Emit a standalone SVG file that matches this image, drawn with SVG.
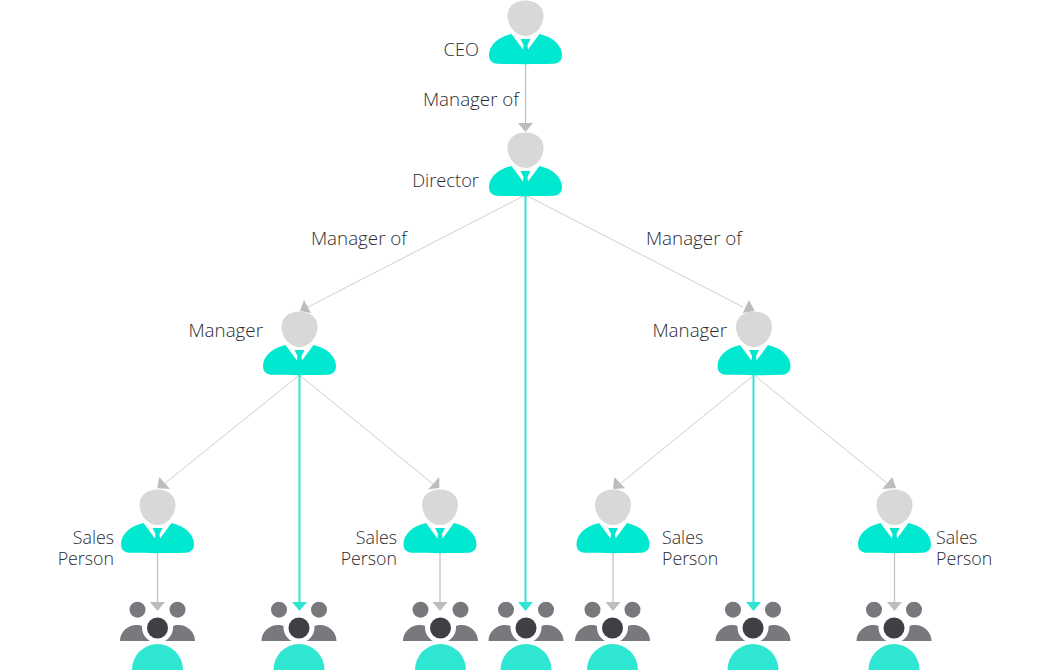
<svg xmlns="http://www.w3.org/2000/svg" xmlns:xlink="http://www.w3.org/1999/xlink" width="1051" height="670" viewBox="0 0 1051 670">
<style>
text{font-family:"Open Sans","Noto Sans","Liberation Sans",sans-serif;font-size:17.8px;font-weight:300;fill:#2b2b30}
.e{text-anchor:end}
.m{font-size:18.8px}
.d{font-size:18.3px}
.thin{stroke:#cfcfcf;stroke-width:1;fill:none}
.gl{stroke:#bdbdbd;stroke-width:1.2;fill:none}
.tl{stroke:#2fe6d2;stroke-width:2;fill:none}
.ga{fill:#bdbdbd}
.ta{fill:#2fe6d2}
</style>
<defs>
<g id="person">
<path fill="#d8d8d8" d="M0 .5C11 .5 18 7 18 15.500C18 26 10 36 0 36C-10 36 -18 26 -18 15.500C-18 7 -11 .5 0 .5Z"/>
<path fill="#00e8d0" d="M-14 34L-2.500 49.500L-2 45L-5 39H5L2 45L2.500 49.500L14 34C28 37 36.500 46 36.500 55C36.500 61 33 63.700 27 63.800C10 64.300 -10 64.300 -27 63.800C-33 63.700 -36.500 61 -36.500 55C-36.500 46 -28 37 -14 34Z"/>
</g>
<g id="team">
<circle cx="-20" cy="9.700" r="8" fill="#78787d"/>
<circle cx="20" cy="9.700" r="8" fill="#78787d"/>
<path fill="#78787d" d="M-37.500 41C-37.500 32 -30 25 -21 25C-19 25 -17.500 25.300 -15.500 26C-16 33 -12 38.500 -7.500 41Z"/>
<path fill="#78787d" d="M37.500 41C37.500 32 30 25 21 25C19 25 17.500 25.300 15.500 26C16 33 12 38.500 7.500 41Z"/>
<circle cx="0" cy="28" r="10.500" fill="#3f3f45"/>
<path fill="#2fe6d2" d="M-25.500 70A25.500 26 0 0 1 25.500 70Z"/>
</g>
</defs>
<g id="connectors">
<path class="gl" d="M525.500 64V124"/>
<path class="ga" d="M518 123H533L525.500 132Z"/>
<path class="thin" d="M525.500 195L308 307"/>
<path class="ga" d="M304 300L311 313L300 311Z"/>
<path class="thin" d="M525.500 195L743 307"/>
<path class="ga" d="M749 300L754.700 311L742.700 313Z"/>
<path class="tl" d="M525.500 195V603"/>
<path class="ta" d="M518 602H533L525.500 611Z"/>
<path class="thin" d="M299.500 375L164 484"/>
<path class="ga" d="M159.300 477L170 489L157.300 488.300Z"/>
<path class="thin" d="M299.500 375L433 484"/>
<path class="ga" d="M439.300 477L439.300 488L428.300 489.300Z"/>
<path class="tl" d="M299.500 375V603"/>
<path class="ta" d="M292 602H307L299.500 611Z"/>
<path class="thin" d="M754 375L620 484"/>
<path class="ga" d="M614.300 477L625 488.300L613 489Z"/>
<path class="thin" d="M754 375L888 484"/>
<path class="ga" d="M892.300 477L896 488L882.300 489Z"/>
<path class="tl" d="M753.500 375V603"/>
<path class="ta" d="M746 602H761L753.500 611Z"/>
<path class="gl" d="M157.500 553V603"/>
<path class="ga" d="M150 602H165L157.500 611Z"/>
<path class="gl" d="M440 553V603"/>
<path class="ga" d="M432.500 602H447.500L440 611Z"/>
<path class="gl" d="M613 553V603"/>
<path class="ga" d="M605.500 602H620.500L613 611Z"/>
<path class="gl" d="M894.500 553V603"/>
<path class="ga" d="M887 602H902L894.500 611Z"/>
</g>
<g id="ceo"><use href="#person" x="525.500" y="0"/><text class="e d" x="479" y="55.500">CEO</text></g>
<g id="director"><use href="#person" x="525.500" y="132"/><text class="e d" x="479" y="186.500">Director</text></g>
<g id="manager-left"><use href="#person" x="299.500" y="311"/><text class="e m" x="263" y="336.500">Manager</text></g>
<g id="manager-right"><use href="#person" x="754" y="311"/><text class="e m" x="727" y="336.500">Manager</text></g>
<g id="sales-1"><use href="#person" x="157.500" y="489"/><text class="e" x="114" y="543.500">Sales</text><text class="e" x="114" y="564.500">Person</text></g>
<g id="sales-2"><use href="#person" x="440" y="489"/><text class="e" x="397" y="543.500">Sales</text><text class="e" x="397" y="564.500">Person</text></g>
<g id="sales-3"><use href="#person" x="613" y="489"/><text x="662" y="543.500">Sales</text><text x="662" y="564.500">Person</text></g>
<g id="sales-4"><use href="#person" x="894.500" y="489"/><text x="936" y="543.500">Sales</text><text x="936" y="564.500">Person</text></g>
<g id="team-1"><use href="#team" x="157.500" y="600"/></g>
<g id="team-2"><use href="#team" x="299" y="600"/></g>
<g id="team-3"><use href="#team" x="440.500" y="600"/></g>
<g id="team-4"><use href="#team" x="526" y="600"/></g>
<g id="team-5"><use href="#team" x="612.500" y="600"/></g>
<g id="team-6"><use href="#team" x="753" y="600"/></g>
<g id="team-7"><use href="#team" x="894" y="600"/></g>
<g id="labels">
<text class="e m" x="519" y="105.500">Manager of</text>
<text class="e m" x="407" y="244.500">Manager of</text>
<text class="e m" x="742" y="244.500">Manager of</text>
</g>
</svg>
